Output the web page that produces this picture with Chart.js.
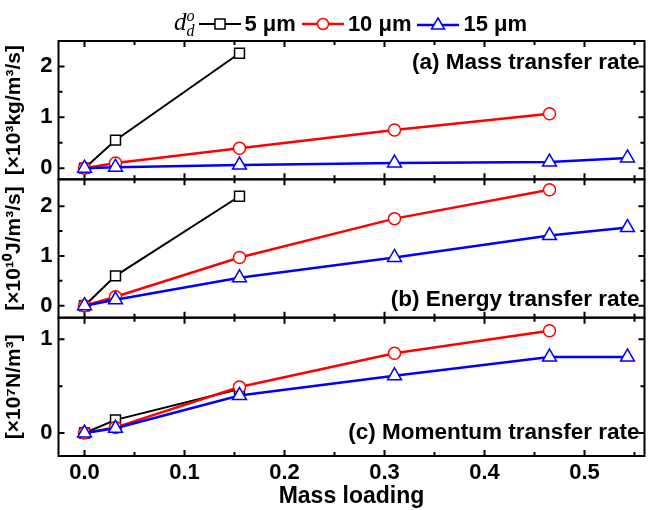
<!DOCTYPE html>
<html>
<head>
<meta charset="utf-8">
<script src="https://cdn.jsdelivr.net/npm/chart.js@4.4.1/dist/chart.umd.min.js"></script>
<style>
  body { margin: 0; background: #fff; }
  #wrap { position: relative; width: 654px; height: 510px; }
  #legend {
    position: absolute; left: 174px; top: 7px; display: flex; align-items: center;
    font: bold 22px 'Liberation Sans', Arial, sans-serif; color: #000; white-space: nowrap;
  }
  #legend .dd { font: italic 25px 'Liberation Serif', 'Times New Roman', serif; margin-right: 2px; }
  #legend svg { margin: 0 4px 0 2px; }
</style>
</head>
<body>
<div id="wrap">
  <canvas id="chart" width="654" height="510"></canvas>
  <div id="legend">
    <span class="dd">d<sub style="font-size:16px">d</sub><sup style="font-size:16px;margin-left:-8px">o</sup></span>
    <svg width="42" height="16"><line x1="0" y1="8" x2="42" y2="8" stroke="#000" stroke-width="2"/><rect x="16" y="3" width="10" height="10" fill="#fff" stroke="#000" stroke-width="1.5"/></svg>
    <span>5 μm</span>
    <svg width="42" height="16" style="margin-left:6px"><line x1="0" y1="8" x2="42" y2="8" stroke="#f00" stroke-width="2.5"/><circle cx="21" cy="8" r="5.5" fill="#fff" stroke="#f00" stroke-width="1.5"/></svg>
    <span>10 μm</span>
    <svg width="42" height="16" style="margin-left:6px"><line x1="0" y1="9" x2="42" y2="9" stroke="#00f" stroke-width="2.5"/><polygon points="21,2 27.5,13 14.5,13" fill="#fff" stroke="#00f" stroke-width="1.5"/></svg>
    <span>15 μm</span>
  </div>
</div>
<script>
// mass loading for each droplet size
const x5 = [0, 0.031, 0.155];
const x10 = [0, 0.031, 0.155, 0.31, 0.465];
const x15 = [0, 0.031, 0.155, 0.31, 0.465, 0.543];

// (a) mass transfer rate [x10^3 kg/m3/s]
const mass5 = [0, 0.55, 2.26];
const mass10 = [0, 0.1, 0.39, 0.75, 1.07];
const mass15 = [0, 0.02, 0.06, 0.1, 0.12, 0.2];
// (b) energy transfer rate [x10^10 J/m3/s]
const energy5 = [0, 0.6, 2.2];
const energy10 = [0, 0.18, 0.97, 1.75, 2.33];
const energy15 = [0, 0.12, 0.56, 0.97, 1.41, 1.57];
// (c) momentum transfer rate [x10^7 N/m3]
const momentum5 = [0, 0.14, 0.47];
const momentum10 = [0, 0.06, 0.49, 0.85, 1.09];
const momentum15 = [0, 0.05, 0.4, 0.61, 0.81, 0.81];

const xTicks = [0, 0.1, 0.2, 0.3, 0.4, 0.5];
const xMinor = [0.05, 0.15, 0.25, 0.35, 0.45, 0.55];
const yTicksA = [0, 1, 2];
const yMinorA = [0.5, 1.5];
const yTicksB = [0, 1, 2];
const yMinorB = [0.5, 1.5];
const yTicksC = [0, 1];
const yMinorC = [0.5];

const panelTitles = ['(a) Mass transfer rate', '(b) Energy transfer rate', '(c) Momentum transfer rate'];
const axisTitles = ['[×10³kg/m³/s]', '[×10¹⁰J/m³/s]', '[×10⁷N/m³]'];

const FONT = "'Liberation Sans', Arial, sans-serif";

const toPts = (xs, ys) => xs.map((x, i) => ({ x: x, y: ys[i] }));

const styles = {
  s5: { borderColor: '#000', pointStyle: 'rect', pointRadius: 7, borderWidth: 2, order: 2 },
  s10: { borderColor: '#f00', pointStyle: 'circle', pointRadius: 6, borderWidth: 2.5, order: 1 },
  s15: { borderColor: '#00f', pointStyle: 'triangle', pointRadius: 8, borderWidth: 2.5, order: 0 },
};

function makeSet(style, xs, ys, axis) {
  const st = styles[style];
  return {
    data: toPts(xs, ys),
    yAxisID: axis,
    borderColor: st.borderColor,
    borderWidth: st.borderWidth,
    pointStyle: st.pointStyle,
    pointRadius: st.pointRadius,
    pointBorderWidth: 1.5,
    pointBackgroundColor: '#fff',
    pointBorderColor: st.borderColor,
    order: st.order,
    tension: 0,
  };
}

function yAxis(min, max, ticks, title) {
  return {
    type: 'linear', position: 'left', stack: 'panels', stackWeight: 1,
    min: min, max: max,
    afterBuildTicks: s => { s.ticks = ticks.map(v => ({ value: v })); },
    afterFit: s => { s.width = 58.5; },
    grid: { display: false, drawTicks: false },
    border: { display: false },
    ticks: { color: '#000', padding: 6, font: { family: FONT, size: 22, weight: 'bold' } },
    title: { display: true, text: title, color: '#000', padding: { top: 2, bottom: 0 },
      font: { family: FONT, size: 21, weight: 'bold' } },
  };
}

const panels = [
  { id: 'yA', major: yTicksA, minor: yMinorA },
  { id: 'yB', major: yTicksB, minor: yMinorB },
  { id: 'yC', major: yTicksC, minor: yMinorC },
];

// frame boxes with inward ticks on all four sides of each panel
const frameTicks = {
  id: 'frameTicks',
  beforeDatasetsDraw(chart) {
    const ctx = chart.ctx, xs = chart.scales.x, area = chart.chartArea;
    ctx.save();
    ctx.strokeStyle = '#000';
    ctx.lineWidth = 2;
    panels.forEach(p => {
      const s = chart.scales[p.id];
      const top = s.top, bottom = s.bottom;
      ctx.strokeRect(area.left, top, area.right - area.left, bottom - top);
      const tick = (len, vals, vertical) => {
        vals.forEach(v => {
          ctx.beginPath();
          if (vertical) {
            const px = xs.getPixelForValue(v);
            ctx.moveTo(px, bottom); ctx.lineTo(px, bottom - len);
            ctx.moveTo(px, top); ctx.lineTo(px, top + len);
          } else {
            const py = s.getPixelForValue(v);
            ctx.moveTo(area.left, py); ctx.lineTo(area.left + len, py);
            ctx.moveTo(area.right, py); ctx.lineTo(area.right - len, py);
          }
          ctx.stroke();
        });
      };
      tick(6, xTicks, true);
      tick(4, xMinor, true);
      tick(6, p.major, false);
      tick(4, p.minor, false);
    });
    ctx.restore();
  },
  afterDraw(chart) {
    const ctx = chart.ctx, area = chart.chartArea;
    ctx.save();
    ctx.fillStyle = '#000';
    ctx.font = 'bold 22.5px ' + FONT;
    ctx.textAlign = 'right';
    ctx.textBaseline = 'middle';
    const a = chart.scales.yA, b = chart.scales.yB, c = chart.scales.yC;
    ctx.fillText(panelTitles[0], area.right - 5, a.top + 22);
    ctx.fillText(panelTitles[1], area.right - 5, b.bottom - 18);
    ctx.fillText(panelTitles[2], area.right - 5, c.bottom - 23);
    ctx.restore();
  }
};

new Chart(document.getElementById('chart'), {
  type: 'line',
  data: {
    datasets: [
      makeSet('s5', x5, mass5, 'yA'),
      makeSet('s10', x10, mass10, 'yA'),
      makeSet('s15', x15, mass15, 'yA'),
      makeSet('s5', x5, energy5, 'yB'),
      makeSet('s10', x10, energy10, 'yB'),
      makeSet('s15', x15, energy15, 'yB'),
      makeSet('s5', x5, momentum5, 'yC'),
      makeSet('s10', x10, momentum10, 'yC'),
      makeSet('s15', x15, momentum15, 'yC'),
    ]
  },
  options: {
    responsive: false,
    animation: false,
    devicePixelRatio: 1,
    layout: { padding: { top: 41, right: 7, left: 0, bottom: 0 } },
    plugins: { legend: { display: false }, tooltip: { enabled: false } },
    scales: {
      x: {
        type: 'linear', min: -0.026, max: 0.56,
        afterBuildTicks: s => { s.ticks = xTicks.map(v => ({ value: v })); },
        afterFit: s => { s.height = 54; },
        grid: { display: false, drawTicks: false },
        border: { display: false },
        ticks: { color: '#000', padding: 4, font: { family: FONT, size: 22, weight: 'bold' },
          callback: v => v.toFixed(1) },
        title: { display: true, text: 'Mass loading', color: '#000', padding: { top: -1, bottom: 0 },
          font: { family: FONT, size: 23, weight: 'bold' } },
      },
      // stacked left axes are placed bottom-up, so panel (c) is listed first
      yC: yAxis(-0.245, 1.23, yTicksC, axisTitles[2]),
      yB: yAxis(-0.24, 2.54, yTicksB, axisTitles[1]),
      yA: yAxis(-0.22, 2.5, yTicksA, axisTitles[0]),
    }
  },
  plugins: [frameTicks]
});
</script>
</body>
</html>
